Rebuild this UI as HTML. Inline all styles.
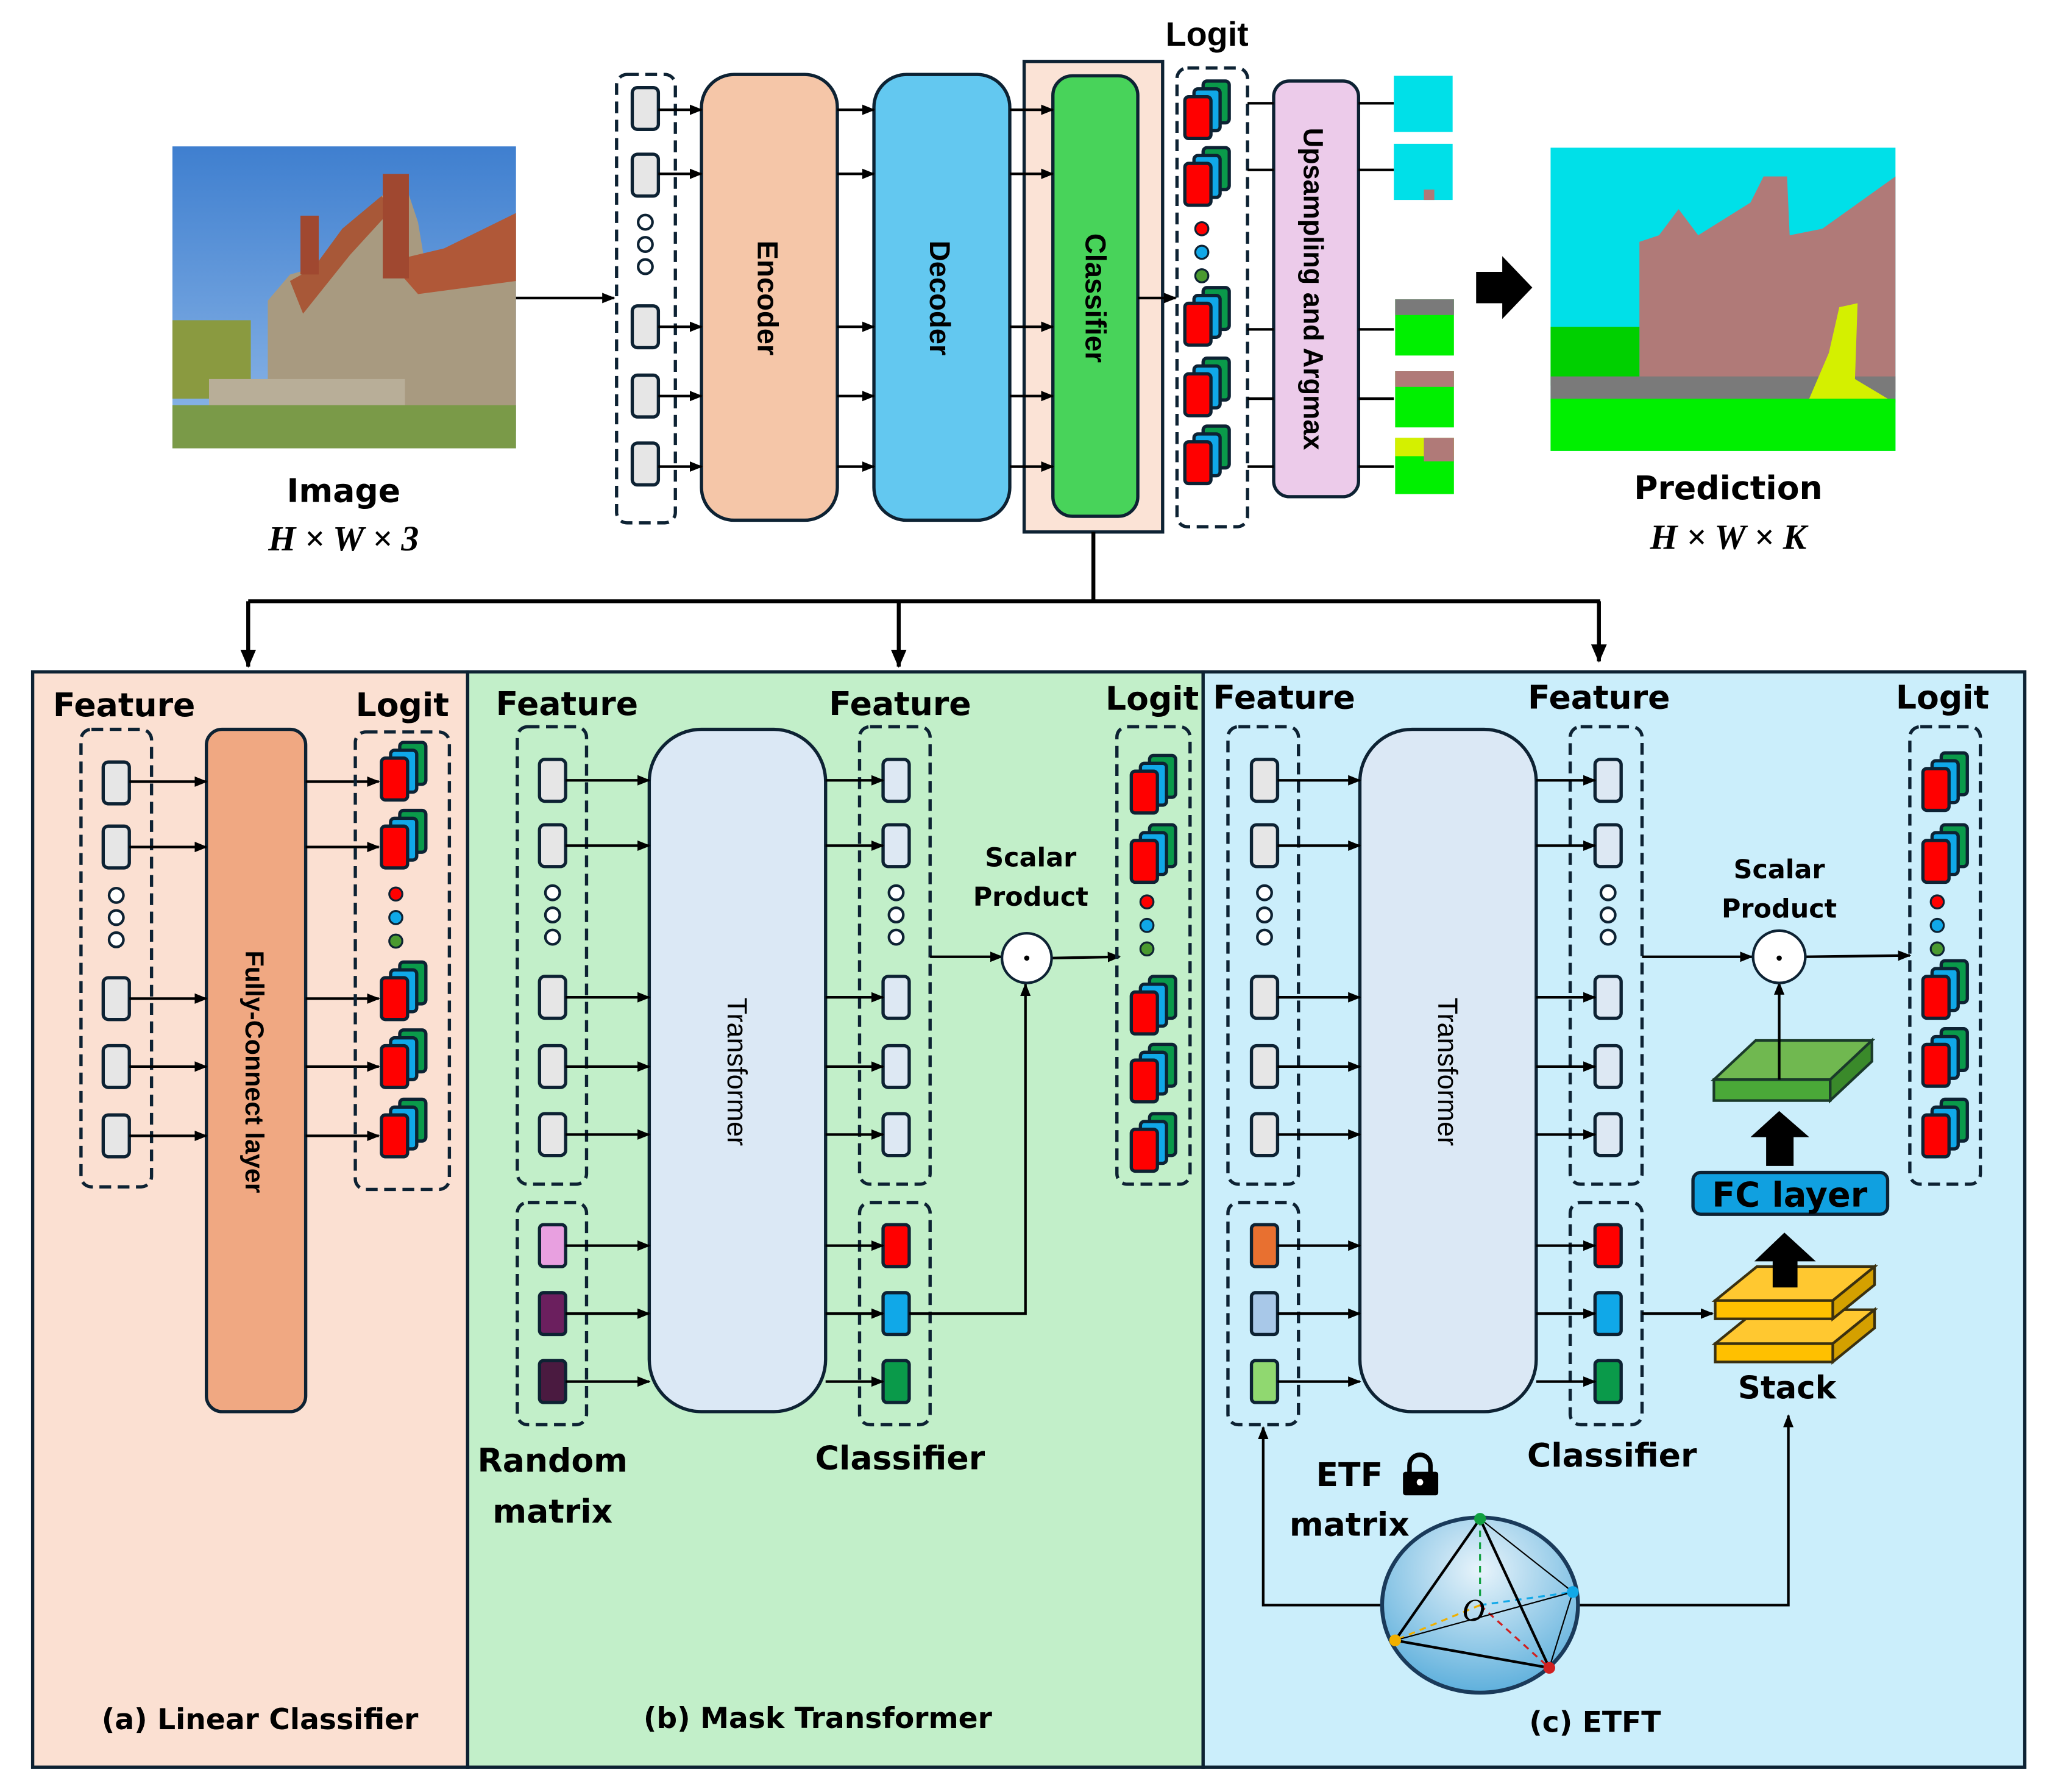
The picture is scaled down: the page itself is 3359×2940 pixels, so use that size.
<!DOCTYPE html>
<html><head><meta charset="utf-8"><style>
html,body{margin:0;padding:0;background:#fff;}
svg{display:block;}
text{font-family:"DejaVu Sans",sans-serif;font-weight:bold;fill:#000;}
.ls{font-family:"Liberation Sans",sans-serif;}
</style></head><body>
<svg width="3359" height="2940" viewBox="0 0 1567 1371" preserveAspectRatio="none" xmlns="http://www.w3.org/2000/svg">
<defs>
<marker id="ar" markerWidth="10" markerHeight="10" refX="9" refY="5" orient="auto" markerUnits="userSpaceOnUse">
<path d="M0,1 L10,5 L0,9 Z" fill="#000"/></marker>
<marker id="ar2" markerWidth="14" markerHeight="14" refX="13" refY="7" orient="auto" markerUnits="userSpaceOnUse">
<path d="M0,1 L14,7 L0,13 Z" fill="#000"/></marker>
<symbol id="fb" overflow="visible"><rect x="0" y="0" width="20" height="32" rx="4" fill="#e6e6e6" stroke="#0d2233" stroke-width="2.5"/></symbol>
<symbol id="fb2" overflow="visible"><rect x="0" y="0" width="20" height="32" rx="4" fill="#dde8f3" stroke="#0d2233" stroke-width="2.5"/></symbol>
<symbol id="lg" overflow="visible">
<rect x="14" y="0" width="20" height="32" rx="3" fill="#0a9a4a" stroke="#0d2233" stroke-width="2.5"/>
<rect x="7" y="6" width="20" height="32" rx="3" fill="#10a8e8" stroke="#0d2233" stroke-width="2.5"/>
<rect x="0" y="12" width="20" height="32" rx="3" fill="#ff0000" stroke="#0d2233" stroke-width="2.5"/>
</symbol>
<symbol id="oc" overflow="visible">
<circle cx="0" cy="0" r="5.5" fill="#fff" stroke="#0d2233" stroke-width="2"/>
<circle cx="0" cy="17" r="5.5" fill="#fff" stroke="#0d2233" stroke-width="2"/>
<circle cx="0" cy="34" r="5.5" fill="#fff" stroke="#0d2233" stroke-width="2"/>
</symbol>
<symbol id="cd" overflow="visible">
<circle cx="0" cy="0" r="5" fill="#ff0000" stroke="#0d2233" stroke-width="1.5"/>
<circle cx="0" cy="18" r="5" fill="#10a8e8" stroke="#0d2233" stroke-width="1.5"/>
<circle cx="0" cy="36" r="5" fill="#4a9a30" stroke="#0d2233" stroke-width="1.5"/>
</symbol>
<radialGradient id="sph" cx="0.5" cy="0.3" r="0.7"><stop offset="0" stop-color="#e8f4fb"/><stop offset="1" stop-color="#5fb0dc"/></radialGradient>
<linearGradient id="sky" x1="0" y1="0" x2="0" y2="1"><stop offset="0" stop-color="#3f7fcf"/><stop offset="1" stop-color="#8fb8e8"/></linearGradient>
</defs>

<!-- photo -->
<rect x="132" y="112" width="263" height="231" fill="url(#sky)"/>
<rect x="132" y="245" width="60" height="60" fill="#8a9a40"/>
<polygon points="205,330 205,230 222,210 240,205 270,170 292,150 310,140 320,170 325,200 340,195 395,165 395,330" fill="#a89a80"/>
<polygon points="222,215 240,205 262,175 292,150 300,160 268,195 232,240" fill="#a85838"/>
<polygon points="298,200 340,190 395,163 395,215 320,225" fill="#b05838"/>
<rect x="293" y="133" width="20" height="80" fill="#a04830"/>
<rect x="230" y="165" width="14" height="45" fill="#a04830"/>
<rect x="160" y="290" width="150" height="25" fill="#b8ae98"/>
<rect x="132" y="310" width="263" height="33" fill="#7a9a48"/>

<text x="263" y="384" font-size="25" text-anchor="middle">Image</text>
<text x="263" y="421" font-size="27" text-anchor="middle" style="font-family:'Liberation Serif',serif;font-style:italic">H × W × 3</text>
<line x1="395" y1="228" x2="470" y2="228" stroke="#000" stroke-width="2" marker-end="url(#ar)"/>

<!-- top input dashed -->
<rect x="472" y="57" width="45" height="343" rx="8" fill="none" stroke="#0d2233" stroke-width="2.5" stroke-dasharray="9,5"/>
<use href="#fb" x="484" y="67"/><use href="#fb" x="484" y="118"/><use href="#fb" x="484" y="234"/><use href="#fb" x="484" y="287"/><use href="#fb" x="484" y="339"/>
<use href="#oc" x="494" y="170"/>
<rect x="537" y="57" width="104" height="341" rx="25" fill="#f5c6a8" stroke="#0d2233" stroke-width="2.5"/>
<rect x="669" y="57" width="104" height="341" rx="25" fill="#63c8f0" stroke="#0d2233" stroke-width="2.5"/>
<rect x="784" y="47" width="106" height="360" fill="#fbe3d6" stroke="#0d2233" stroke-width="2.5"/>
<rect x="806" y="58" width="65" height="337" rx="15" fill="#48d35a" stroke="#0d2233" stroke-width="2.5"/>
<text class="ls" transform="translate(580,228) rotate(90)" font-size="22" text-anchor="middle">Encoder</text>
<text class="ls" transform="translate(712,228) rotate(90)" font-size="22" text-anchor="middle">Decoder</text>
<text class="ls" transform="translate(831,228) rotate(90)" font-size="22" text-anchor="middle">Classifier</text>
<g stroke="#000" stroke-width="2" marker-end="url(#ar)">
<line x1="504" y1="84" x2="537" y2="84"/><line x1="504" y1="133" x2="537" y2="133"/><line x1="504" y1="250" x2="537" y2="250"/><line x1="504" y1="303" x2="537" y2="303"/><line x1="504" y1="357" x2="537" y2="357"/>
<line x1="641" y1="84" x2="669" y2="84"/><line x1="641" y1="133" x2="669" y2="133"/><line x1="641" y1="250" x2="669" y2="250"/><line x1="641" y1="303" x2="669" y2="303"/><line x1="641" y1="357" x2="669" y2="357"/>
<line x1="773" y1="84" x2="806" y2="84"/><line x1="773" y1="133" x2="806" y2="133"/><line x1="773" y1="250" x2="806" y2="250"/><line x1="773" y1="303" x2="806" y2="303"/><line x1="773" y1="357" x2="806" y2="357"/>
<line x1="871" y1="228" x2="900" y2="228"/>
</g>
<text class="ls" x="924" y="35" font-size="26" text-anchor="middle">Logit</text>
<rect x="901" y="52" width="54" height="351" rx="8" fill="none" stroke="#0d2233" stroke-width="2.5" stroke-dasharray="9,5"/>
<use href="#lg" x="907" y="62"/><use href="#lg" x="907" y="113"/><use href="#lg" x="907" y="220"/><use href="#lg" x="907" y="274"/><use href="#lg" x="907" y="326"/>
<use href="#cd" x="920" y="175"/>
<rect x="975" y="62" width="65" height="318" rx="12" fill="#eccbea" stroke="#0d2233" stroke-width="2.5"/>
<text class="ls" transform="translate(998,221) rotate(90)" font-size="21" text-anchor="middle">Upsampling and Argmax</text>
<g stroke="#000" stroke-width="2">
<line x1="955" y1="79" x2="975" y2="79"/><line x1="955" y1="130" x2="975" y2="130"/><line x1="955" y1="252" x2="975" y2="252"/><line x1="955" y1="305" x2="975" y2="305"/><line x1="955" y1="357" x2="975" y2="357"/>
<line x1="1040" y1="79" x2="1067" y2="79"/><line x1="1040" y1="130" x2="1067" y2="130"/><line x1="1040" y1="252" x2="1067" y2="252"/><line x1="1040" y1="305" x2="1067" y2="305"/><line x1="1040" y1="357" x2="1067" y2="357"/>
</g>
<rect x="1067" y="58" width="45" height="43" fill="#00e0e8"/>
<rect x="1067" y="110" width="45" height="43" fill="#00e0e8"/><rect x="1090" y="145" width="8" height="8" fill="#b07a78"/>
<rect x="1068" y="229" width="45" height="43" fill="#00f000"/><rect x="1068" y="229" width="45" height="12" fill="#7a7a7a"/>
<rect x="1068" y="284" width="45" height="43" fill="#00f000"/><rect x="1068" y="284" width="45" height="12" fill="#b07a78"/>
<rect x="1068" y="335" width="45" height="43" fill="#00f000"/><rect x="1068" y="335" width="45" height="14" fill="#d4f000"/><rect x="1090" y="335" width="23" height="18" fill="#b07a78"/>
<polygon points="1130,208 1150,208 1150,196 1173,220 1150,244 1150,232 1130,232" fill="#000"/>
<!-- prediction -->
<rect x="1187" y="113" width="264" height="232" fill="#00e0e8"/>
<polygon points="1255,300 1255,185 1270,180 1285,160 1300,180 1340,155 1350,135 1368,135 1370,180 1395,175 1451,135 1451,300" fill="#b07a78"/>
<rect x="1187" y="250" width="68" height="45" fill="#00d000"/>
<rect x="1187" y="288" width="264" height="20" fill="#7a7a7a"/>
<polygon points="1385,305 1400,270 1408,235 1422,232 1420,290 1445,305" fill="#d4f000"/>
<rect x="1187" y="305" width="264" height="40" fill="#00f000"/>
<text x="1323" y="382" font-size="25" text-anchor="middle">Prediction</text>
<text x="1323" y="420" font-size="27" text-anchor="middle" style="font-family:'Liberation Serif',serif;font-style:italic">H × W × K</text>

<!-- connector -->
<g stroke="#000" stroke-width="3" fill="none">
<polyline points="837,407 837,460"/>
<line x1="190" y1="460" x2="1225" y2="460"/>
<line x1="190" y1="460" x2="190" y2="510" marker-end="url(#ar2)"/>
<line x1="688" y1="460" x2="688" y2="510" marker-end="url(#ar2)"/>
<line x1="1224" y1="460" x2="1224" y2="506" marker-end="url(#ar2)"/>
</g>

<!-- panels -->
<rect x="25" y="514" width="333" height="838" fill="#fbe0d2" stroke="#0d2233" stroke-width="2.5"/>
<rect x="358" y="514" width="563" height="838" fill="#c2efc9" stroke="#0d2233" stroke-width="2.5"/>
<rect x="921" y="514" width="629" height="838" fill="#cbeefb" stroke="#0d2233" stroke-width="2.5"/>

<!-- panel a -->
<text x="95" y="548" font-size="25" text-anchor="middle">Feature</text>
<text x="308" y="548" font-size="25" text-anchor="middle">Logit</text>
<rect x="62" y="558" width="54" height="350" rx="8" fill="none" stroke="#0d2233" stroke-width="2.5" stroke-dasharray="9,5"/>
<use href="#fb" x="79" y="583"/><use href="#fb" x="79" y="632"/><use href="#fb" x="79" y="748"/><use href="#fb" x="79" y="800"/><use href="#fb" x="79" y="853"/>
<use href="#oc" x="89" y="685"/>
<rect x="158" y="558" width="76" height="522" rx="12" fill="#f0a882" stroke="#0d2233" stroke-width="2.5"/>
<text class="ls" transform="translate(188,820) rotate(90)" font-size="20" text-anchor="middle">Fully-Connect layer</text>
<g stroke="#000" stroke-width="2" marker-end="url(#ar)">
<line x1="99" y1="598" x2="158" y2="598"/><line x1="99" y1="648" x2="158" y2="648"/><line x1="99" y1="764" x2="158" y2="764"/><line x1="99" y1="816" x2="158" y2="816"/><line x1="99" y1="869" x2="158" y2="869"/>
<line x1="234" y1="598" x2="290" y2="598"/><line x1="234" y1="648" x2="290" y2="648"/><line x1="234" y1="764" x2="290" y2="764"/><line x1="234" y1="816" x2="290" y2="816"/><line x1="234" y1="869" x2="290" y2="869"/>
</g>
<rect x="272" y="560" width="72" height="350" rx="8" fill="none" stroke="#0d2233" stroke-width="2.5" stroke-dasharray="9,5"/>
<use href="#lg" x="292" y="568"/><use href="#lg" x="292" y="620"/><use href="#lg" x="292" y="736"/><use href="#lg" x="292" y="788"/><use href="#lg" x="292" y="841"/>
<use href="#cd" x="303" y="684"/>
<text x="199" y="1323" font-size="22" text-anchor="middle">(a) Linear Classifier</text>

<!-- panel b -->
<text x="434" y="547" font-size="25" text-anchor="middle">Feature</text>
<text x="689" y="547" font-size="25" text-anchor="middle">Feature</text>
<text x="882" y="543" font-size="25" text-anchor="middle">Logit</text>
<rect x="396" y="556" width="53" height="350" rx="8" fill="none" stroke="#0d2233" stroke-width="2.5" stroke-dasharray="9,5"/>
<rect x="396" y="920" width="53" height="170" rx="8" fill="none" stroke="#0d2233" stroke-width="2.5" stroke-dasharray="9,5"/>
<use href="#fb" x="413" y="581"/><use href="#fb" x="413" y="631"/><use href="#fb" x="413" y="747"/><use href="#fb" x="413" y="800"/><use href="#fb" x="413" y="852"/>
<use href="#oc" x="423" y="683"/>
<rect x="413" y="937" width="20" height="32" rx="3" fill="#e8a0e0" stroke="#0d2233" stroke-width="2.5"/>
<rect x="413" y="989" width="20" height="32" rx="3" fill="#6b1f5e" stroke="#0d2233" stroke-width="2.5"/>
<rect x="413" y="1041" width="20" height="32" rx="3" fill="#4a1a40" stroke="#0d2233" stroke-width="2.5"/>
<rect x="497" y="558" width="135" height="522" rx="40" fill="#dbe8f5" stroke="#0d2233" stroke-width="2.5"/>
<text class="ls" transform="translate(557,820) rotate(90)" font-size="21" text-anchor="middle" style="font-weight:normal">Transformer</text>
<rect x="658" y="556" width="54" height="350" rx="8" fill="none" stroke="#0d2233" stroke-width="2.5" stroke-dasharray="9,5"/>
<rect x="658" y="920" width="54" height="170" rx="8" fill="none" stroke="#0d2233" stroke-width="2.5" stroke-dasharray="9,5"/>
<use href="#fb2" x="676" y="581"/><use href="#fb2" x="676" y="631"/><use href="#fb2" x="676" y="747"/><use href="#fb2" x="676" y="800"/><use href="#fb2" x="676" y="852"/>
<use href="#oc" x="686" y="683"/>
<rect x="676" y="937" width="20" height="32" rx="3" fill="#ff0000" stroke="#0d2233" stroke-width="2.5"/>
<rect x="676" y="989" width="20" height="32" rx="3" fill="#10a8e8" stroke="#0d2233" stroke-width="2.5"/>
<rect x="676" y="1041" width="20" height="32" rx="3" fill="#0a9a4a" stroke="#0d2233" stroke-width="2.5"/>
<g stroke="#000" stroke-width="2" marker-end="url(#ar)">
<line x1="433" y1="597" x2="497" y2="597"/><line x1="433" y1="647" x2="497" y2="647"/><line x1="433" y1="763" x2="497" y2="763"/><line x1="433" y1="816" x2="497" y2="816"/><line x1="433" y1="868" x2="497" y2="868"/>
<line x1="433" y1="953" x2="497" y2="953"/><line x1="433" y1="1005" x2="497" y2="1005"/><line x1="433" y1="1057" x2="497" y2="1057"/>
<line x1="632" y1="597" x2="676" y2="597"/><line x1="632" y1="647" x2="676" y2="647"/><line x1="632" y1="763" x2="676" y2="763"/><line x1="632" y1="816" x2="676" y2="816"/><line x1="632" y1="868" x2="676" y2="868"/>
<line x1="632" y1="953" x2="676" y2="953"/><line x1="632" y1="1005" x2="676" y2="1005"/><line x1="632" y1="1057" x2="676" y2="1057"/>
<line x1="712" y1="732" x2="767" y2="732"/>
<polyline fill="none" points="696,1005 785,1005 785,753"/>
<line x1="804" y1="733" x2="857" y2="732"/>
</g>
<circle cx="786" cy="733" r="19" fill="#fff" stroke="#0d2233" stroke-width="2"/><circle cx="786" cy="733" r="2" fill="#000"/>
<text x="789" y="663" font-size="20" text-anchor="middle">Scalar</text>
<text x="789" y="693" font-size="20" text-anchor="middle">Product</text>
<rect x="855" y="556" width="56" height="350" rx="8" fill="none" stroke="#0d2233" stroke-width="2.5" stroke-dasharray="9,5"/>
<use href="#lg" x="866" y="578"/><use href="#lg" x="866" y="631"/><use href="#lg" x="866" y="747"/><use href="#lg" x="866" y="799"/><use href="#lg" x="866" y="852"/>
<use href="#cd" x="878" y="690"/>
<text x="423" y="1126" font-size="25" text-anchor="middle">Random</text>
<text x="423" y="1165" font-size="25" text-anchor="middle">matrix</text>
<text x="689" y="1124" font-size="25" text-anchor="middle">Classifier</text>
<text x="626" y="1322" font-size="22" text-anchor="middle">(b) Mask Transformer</text>

<!-- panel c -->
<text x="983" y="542" font-size="25" text-anchor="middle">Feature</text>
<text x="1224" y="542" font-size="25" text-anchor="middle">Feature</text>
<text x="1487" y="542" font-size="25" text-anchor="middle">Logit</text>
<rect x="940" y="556" width="54" height="350" rx="8" fill="none" stroke="#0d2233" stroke-width="2.5" stroke-dasharray="9,5"/>
<rect x="940" y="920" width="54" height="170" rx="8" fill="none" stroke="#0d2233" stroke-width="2.5" stroke-dasharray="9,5"/>
<use href="#fb" x="958" y="581"/><use href="#fb" x="958" y="631"/><use href="#fb" x="958" y="747"/><use href="#fb" x="958" y="800"/><use href="#fb" x="958" y="852"/>
<use href="#oc" x="968" y="683"/>
<rect x="958" y="937" width="20" height="32" rx="3" fill="#e87030" stroke="#0d2233" stroke-width="2.5"/>
<rect x="958" y="989" width="20" height="32" rx="3" fill="#a8c8e8" stroke="#0d2233" stroke-width="2.5"/>
<rect x="958" y="1041" width="20" height="32" rx="3" fill="#90d870" stroke="#0d2233" stroke-width="2.5"/>
<rect x="1041" y="558" width="135" height="522" rx="40" fill="#dbe8f5" stroke="#0d2233" stroke-width="2.5"/>
<text class="ls" transform="translate(1101,820) rotate(90)" font-size="21" text-anchor="middle" style="font-weight:normal">Transformer</text>
<rect x="1202" y="556" width="55" height="350" rx="8" fill="none" stroke="#0d2233" stroke-width="2.5" stroke-dasharray="9,5"/>
<rect x="1202" y="920" width="55" height="170" rx="8" fill="none" stroke="#0d2233" stroke-width="2.5" stroke-dasharray="9,5"/>
<use href="#fb2" x="1221" y="581"/><use href="#fb2" x="1221" y="631"/><use href="#fb2" x="1221" y="747"/><use href="#fb2" x="1221" y="800"/><use href="#fb2" x="1221" y="852"/>
<use href="#oc" x="1231" y="683"/>
<rect x="1221" y="937" width="20" height="32" rx="3" fill="#ff0000" stroke="#0d2233" stroke-width="2.5"/>
<rect x="1221" y="989" width="20" height="32" rx="3" fill="#10a8e8" stroke="#0d2233" stroke-width="2.5"/>
<rect x="1221" y="1041" width="20" height="32" rx="3" fill="#0a9a4a" stroke="#0d2233" stroke-width="2.5"/>
<g stroke="#000" stroke-width="2" marker-end="url(#ar)">
<line x1="978" y1="597" x2="1041" y2="597"/><line x1="978" y1="647" x2="1041" y2="647"/><line x1="978" y1="763" x2="1041" y2="763"/><line x1="978" y1="816" x2="1041" y2="816"/><line x1="978" y1="868" x2="1041" y2="868"/>
<line x1="978" y1="953" x2="1041" y2="953"/><line x1="978" y1="1005" x2="1041" y2="1005"/><line x1="978" y1="1057" x2="1041" y2="1057"/>
<line x1="1176" y1="597" x2="1221" y2="597"/><line x1="1176" y1="647" x2="1221" y2="647"/><line x1="1176" y1="763" x2="1221" y2="763"/><line x1="1176" y1="816" x2="1221" y2="816"/><line x1="1176" y1="868" x2="1221" y2="868"/>
<line x1="1176" y1="953" x2="1221" y2="953"/><line x1="1176" y1="1005" x2="1221" y2="1005"/><line x1="1176" y1="1057" x2="1221" y2="1057"/>
<line x1="1257" y1="732" x2="1341" y2="732"/>
<line x1="1382" y1="732" x2="1462" y2="731"/>
<line x1="1257" y1="1005" x2="1311" y2="1005"/>
<polyline fill="none" points="1206,1228 1369,1228 1369,1083"/>
<polyline fill="none" points="1060,1228 967,1228 967,1092"/>
</g>
<text x="1362" y="672" font-size="20" text-anchor="middle">Scalar</text>
<text x="1362" y="702" font-size="20" text-anchor="middle">Product</text>
<!-- green slab -->
<polygon points="1312,826 1344,796 1433,796 1401,826" fill="#70b850" stroke="#1a3a2a" stroke-width="2"/>
<polygon points="1401,826 1433,796 1433,812 1401,842" fill="#3a8a2a" stroke="#1a3a2a" stroke-width="2"/>
<rect x="1312" y="826" width="89" height="16" fill="#4aa838" stroke="#1a3a2a" stroke-width="2"/>
<line x1="1362" y1="826" x2="1362" y2="752" stroke="#000" stroke-width="2" marker-end="url(#ar)"/>
<circle cx="1362" cy="732" r="20" fill="#fff" stroke="#0d2233" stroke-width="2"/><circle cx="1362" cy="733" r="2" fill="#000"/>
<polygon points="1352,892 1352,870 1340,870 1362,850 1385,870 1373,870 1373,892" fill="#000"/>
<rect x="1296" y="897" width="149" height="32" rx="6" fill="#10a0e0" stroke="#0d2233" stroke-width="2.5"/>
<text x="1370" y="923" font-size="26" text-anchor="middle">FC layer</text>
<!-- stack -->
<polygon points="1313,1028 1345,1002 1435,1002 1403,1028" fill="#ffc830" stroke="#3a3010" stroke-width="2"/>
<polygon points="1403,1028 1435,1002 1435,1016 1403,1042" fill="#d4a000" stroke="#3a3010" stroke-width="2"/>
<rect x="1313" y="1028" width="90" height="14" fill="#ffc000" stroke="#3a3010" stroke-width="2"/>
<polygon points="1313,995 1345,969 1435,969 1403,995" fill="#ffc830" stroke="#3a3010" stroke-width="2"/>
<polygon points="1403,995 1435,969 1435,983 1403,1009" fill="#d4a000" stroke="#3a3010" stroke-width="2"/>
<rect x="1313" y="995" width="90" height="14" fill="#ffc000" stroke="#3a3010" stroke-width="2"/>
<polygon points="1357,985 1357,965 1343,965 1366,943 1390,965 1376,965 1376,985" fill="#000"/>
<text x="1368" y="1070" font-size="24" text-anchor="middle">Stack</text>
<rect x="1462" y="556" width="54" height="350" rx="8" fill="none" stroke="#0d2233" stroke-width="2.5" stroke-dasharray="9,5"/>
<use href="#lg" x="1472" y="576"/><use href="#lg" x="1472" y="631"/><use href="#lg" x="1472" y="735"/><use href="#lg" x="1472" y="787"/><use href="#lg" x="1472" y="841"/>
<use href="#cd" x="1483" y="690"/>
<text x="1234" y="1122" font-size="25" text-anchor="middle">Classifier</text>
<text x="1033" y="1137" font-size="25" text-anchor="middle">ETF</text>
<text x="1033" y="1175" font-size="25" text-anchor="middle">matrix</text>
<rect x="1074" y="1126" width="27" height="18" rx="2" fill="#000"/>
<path d="M1079,1127 v-6 a8,8 0 0 1 16,0 v6" fill="none" stroke="#000" stroke-width="3.5"/>
<circle cx="1087" cy="1134" r="2.5" fill="#fff"/>
<!-- sphere -->
<ellipse cx="1133" cy="1228" rx="75" ry="67" fill="url(#sph)" stroke="#1a3a5a" stroke-width="3"/>
<g stroke-width="1.5" stroke-dasharray="5,4">
<line x1="1133" y1="1162" x2="1133" y2="1225" stroke="#10a040"/>
<line x1="1133" y1="1228" x2="1204" y2="1218" stroke="#10a8e8"/>
<line x1="1133" y1="1228" x2="1068" y2="1255" stroke="#f0b000"/>
<line x1="1133" y1="1228" x2="1186" y2="1276" stroke="#d02020"/>
</g>
<g stroke="#000" stroke-width="2" fill="none">
<line x1="1133" y1="1162" x2="1068" y2="1255"/><line x1="1133" y1="1162" x2="1186" y2="1276"/><line x1="1068" y1="1255" x2="1186" y2="1276"/>
<line x1="1133" y1="1162" x2="1204" y2="1218" stroke-width="1"/><line x1="1204" y1="1218" x2="1186" y2="1276" stroke-width="1"/><line x1="1068" y1="1255" x2="1204" y2="1218" stroke-width="1"/>
</g>
<circle cx="1133" cy="1162" r="4.5" fill="#10a040"/><circle cx="1204" cy="1218" r="4.5" fill="#10a8e8"/><circle cx="1068" cy="1255" r="4.5" fill="#f0b000"/><circle cx="1186" cy="1276" r="4.5" fill="#d02020"/>
<text x="1128" y="1240" font-size="24" text-anchor="middle" style="font-family:'Liberation Serif',serif;font-style:italic;font-weight:normal">O</text>
<text x="1221" y="1325" font-size="22" text-anchor="middle">(c) ETFT</text>
</svg>
</body></html>
